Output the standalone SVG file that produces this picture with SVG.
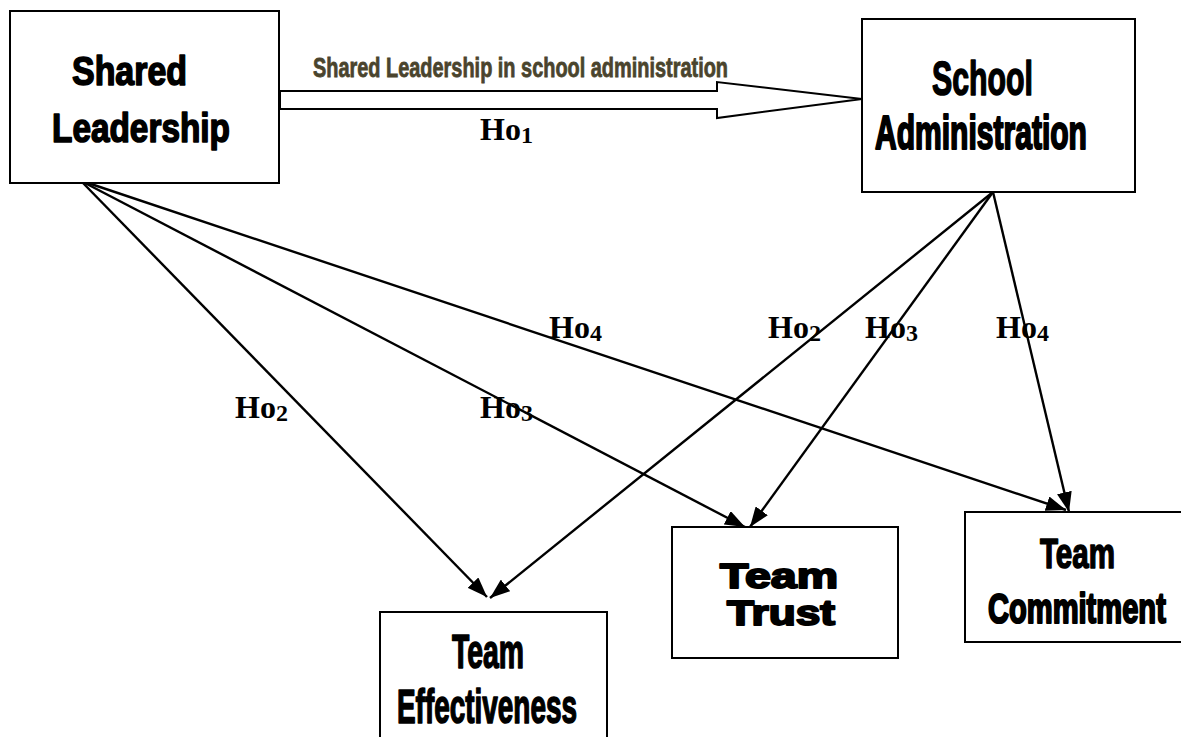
<svg xmlns="http://www.w3.org/2000/svg" width="1181" height="737" viewBox="0 0 1181 737">
<style>
.box{fill:#fff;stroke:#000;stroke-width:2}
.nl{font-family:"Liberation Sans",Arial,sans-serif;font-weight:bold;fill:#000;stroke:#000;stroke-width:1.6;stroke-linejoin:round}
.wide{stroke-width:2}
.sc{stroke-width:2.2}
.ho{font-family:"Liberation Serif","Times New Roman",serif;font-weight:bold;font-size:32px;fill:#000}
.sub{font-size:24px}
.conn{stroke:#000;stroke-width:2.4;fill:none;marker-end:url(#ah)}
.lbl{font-family:"Liberation Sans",Arial,sans-serif;font-weight:bold;font-size:28px;fill:#4a442d;stroke:#4a442d;stroke-width:0.8}
</style>
<defs>
<marker id="ah" viewBox="0 0 20 15" refX="20" refY="7.5" markerWidth="20" markerHeight="15" markerUnits="userSpaceOnUse" orient="auto">
<path d="M0,0 L20,7.5 L0,15 z" fill="#000"/>
</marker>
</defs>
<rect width="1181" height="737" fill="#fff"/>
<g id="connectors">
<line class="conn" x1="83" y1="183" x2="487" y2="597"/>
<line class="conn" x1="85" y1="183" x2="745" y2="527"/>
<line class="conn" x1="88" y1="183" x2="1066" y2="510"/>
<line class="conn" x1="993" y1="192" x2="490" y2="598"/>
<line class="conn" x1="993" y1="192" x2="750" y2="527"/>
<line class="conn" x1="993" y1="192" x2="1069" y2="512"/>
<polygon points="280,91 717,91 717,82 862,99 717,118 717,109 280,109" fill="#fff" stroke="#000" stroke-width="2"/>
<text class="lbl" x="313" y="77" textLength="415" lengthAdjust="spacingAndGlyphs">Shared Leadership in school administration</text>
<text class="ho" x="480" y="140">Ho<tspan class="sub" dy="3">1</tspan></text>
<text class="ho" x="235" y="418">Ho<tspan class="sub" dy="3">2</tspan></text>
<text class="ho" x="480" y="418">Ho<tspan class="sub" dy="3">3</tspan></text>
<text class="ho" x="549" y="338">Ho<tspan class="sub" dy="3">4</tspan></text>
<text class="ho" x="768" y="338">Ho<tspan class="sub" dy="3">2</tspan></text>
<text class="ho" x="865" y="338">Ho<tspan class="sub" dy="3">3</tspan></text>
<text class="ho" x="996" y="338">Ho<tspan class="sub" dy="3">4</tspan></text>
</g>
<g id="shared-leadership">
<rect class="box" x="10" y="11" width="269" height="172"/>
<text class="nl" x="72" y="85" font-size="40" textLength="115" lengthAdjust="spacingAndGlyphs">Shared</text>
<text class="nl" x="52" y="142" font-size="40" textLength="178" lengthAdjust="spacingAndGlyphs">Leadership</text>
</g>
<g id="school-administration">
<rect class="box" x="862" y="19" width="273" height="173"/>
<text class="nl" x="932" y="95" font-size="48" textLength="101" lengthAdjust="spacingAndGlyphs">School</text>
<text class="nl sc" x="0" y="0" font-size="48" transform="translate(875,149) scale(0.626,1)">Administration</text>
</g>
<g id="team-effectiveness">
<rect class="box" x="380" y="612" width="227" height="135"/>
<text class="nl" x="452" y="668" font-size="48" textLength="72" lengthAdjust="spacingAndGlyphs">Team</text>
<text class="nl" x="397" y="723" font-size="48" textLength="180" lengthAdjust="spacingAndGlyphs">Effectiveness</text>
</g>
<g id="team-trust">
<rect class="box" x="672" y="527" width="226" height="131"/>
<text class="nl wide" x="720" y="588" font-size="35" textLength="118" lengthAdjust="spacingAndGlyphs">Team</text>
<text class="nl wide" x="727" y="625" font-size="35" textLength="108" lengthAdjust="spacingAndGlyphs">Trust</text>
</g>
<g id="team-commitment">
<rect class="box" x="965" y="512" width="222" height="130"/>
<text class="nl" x="1040" y="568" font-size="42" textLength="75" lengthAdjust="spacingAndGlyphs">Team</text>
<text class="nl sc" x="0" y="0" font-size="42" transform="translate(988,623) scale(0.693,1)">Commitment</text>
</g>
</svg>
